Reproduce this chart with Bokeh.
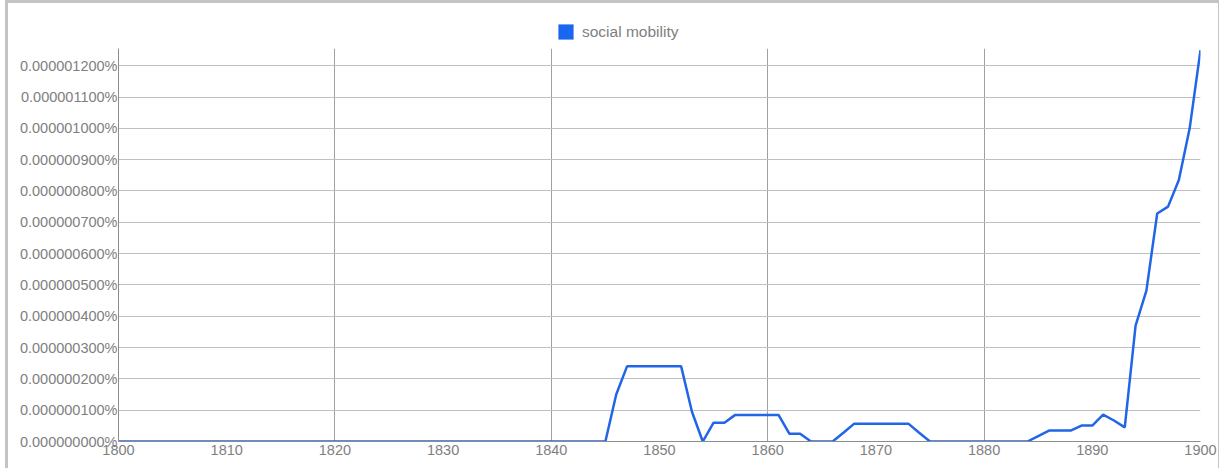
from bokeh.plotting import figure
from bokeh.layouts import column
from bokeh.models import (FixedTicker, CustomJSTickFormatter, Legend, LegendItem,
                          ColumnDataSource, Range1d)
from bokeh.embed import file_html
from bokeh.resources import INLINE

# Years 1800..1900
years = list(range(1800, 1901))

# Frequency of "social mobility", in units of 1e-9 percent
freq_e9 = [
    0, 0, 0, 0, 0, 0, 0, 0, 0, 0,          # 1800-1809
    0, 0, 0, 0, 0, 0, 0, 0, 0, 0,          # 1810-1819
    0, 0, 0, 0, 0, 0, 0, 0, 0, 0,          # 1820-1829
    0, 0, 0, 0, 0, 0, 0, 0, 0, 0,          # 1830-1839
    0, 0, 0, 0, 0, 0, 150, 240, 240, 240,  # 1840-1849
    240, 240, 240, 95, 0, 60, 60, 85, 85, 85,   # 1850-1859
    85, 85, 25, 25, 0, 0, 0, 28, 57, 57,   # 1860-1869
    57, 57, 57, 57, 28, 0, 0, 0, 0, 0,     # 1870-1879
    0, 0, 0, 0, 0, 17, 35, 35, 35, 51,     # 1880-1889
    51, 86, 67, 45, 370, 482, 728, 750, 835, 1000,  # 1890-1899
    1250,                                  # 1900
]

series_label = "social mobility"
x_label_ticks = list(range(1800, 1901, 10))
x_grid_ticks = list(range(1800, 1901, 20))
y_ticks = list(range(0, 1201, 100))

LINE_COLOR = "#2166e6"
SWATCH_COLOR = "#1a66ee"
TEXT_COLOR = "#808080"
FONT = "Liberation Sans"

src = ColumnDataSource(data=dict(year=years, freq=freq_e9))

# ---- legend strip (top) ----
top = figure(
    output_backend="svg", toolbar_location=None,
    width=1210, height=45,
    x_axis_location=None, y_axis_location=None,
    min_border_left=0, min_border_right=0, min_border_top=0, min_border_bottom=0,
    x_range=Range1d(0, 1), y_range=Range1d(0, 1),
    background_fill_color="white", border_fill_color="white",
    outline_line_color=None,
)
top.grid.visible = False
# swatch renderer: built from the series but lies outside this strip's ranges,
# so only its legend square shows
swatch = top.quad(left="year", right="year", top="freq", bottom="freq", source=src,
                  fill_color=SWATCH_COLOR, line_color=None)
legend = Legend(items=[LegendItem(label=series_label, renderers=[swatch])],
                location=(438, 7), orientation="horizontal",
                glyph_width=19, glyph_height=19, padding=0, margin=0, label_standoff=7,
                background_fill_alpha=0, border_line_color=None,
                label_text_color=TEXT_COLOR, label_text_font=FONT,
                label_text_font_size="15.5px")
top.add_layout(legend, "center")

# ---- main chart ----
p = figure(
    output_backend="svg", toolbar_location=None,
    frame_width=1082, frame_height=393,
    min_border_left=110, min_border_top=0, min_border_right=18, min_border_bottom=27,
    x_range=Range1d(1800, 1900), y_range=Range1d(0, 1255),
    background_fill_color="white", border_fill_color="white",
    outline_line_color=None,
)

# grids
p.xgrid.ticker = FixedTicker(ticks=x_grid_ticks)
p.xgrid.grid_line_color = "#a0a0a0"
p.ygrid.ticker = FixedTicker(ticks=y_ticks)
p.ygrid.grid_line_color = "#c0c0c0"

# axes
p.xaxis.ticker = FixedTicker(ticks=x_label_ticks)
p.yaxis.ticker = FixedTicker(ticks=y_ticks)
p.yaxis.formatter = CustomJSTickFormatter(code="return (tick*1e-9).toFixed(9) + '%';")
for ax in (p.xaxis[0], p.yaxis[0]):
    ax.major_tick_out = 0
    ax.major_tick_in = 0
    ax.minor_tick_out = 0
    ax.minor_tick_in = 0
    ax.axis_line_color = "#8c8c8c"
    ax.major_label_text_color = TEXT_COLOR
    ax.major_label_text_font = FONT
    ax.major_label_text_font_size = "14.5px"
p.xaxis.major_label_standoff = 3
p.yaxis.major_label_standoff = 1

p.line("year", "freq", source=src, line_color=LINE_COLOR, line_width=2.5)

layout = column(top, p, spacing=0)
layout.styles = {"margin-left": "5px",
                 "border-left": "3px solid #c4c4c4", "border-top": "3px solid #c4c4c4",
                 "border-right": "1px solid #c4c4c4"}

open("out.html", "w").write(file_html(layout, INLINE))
